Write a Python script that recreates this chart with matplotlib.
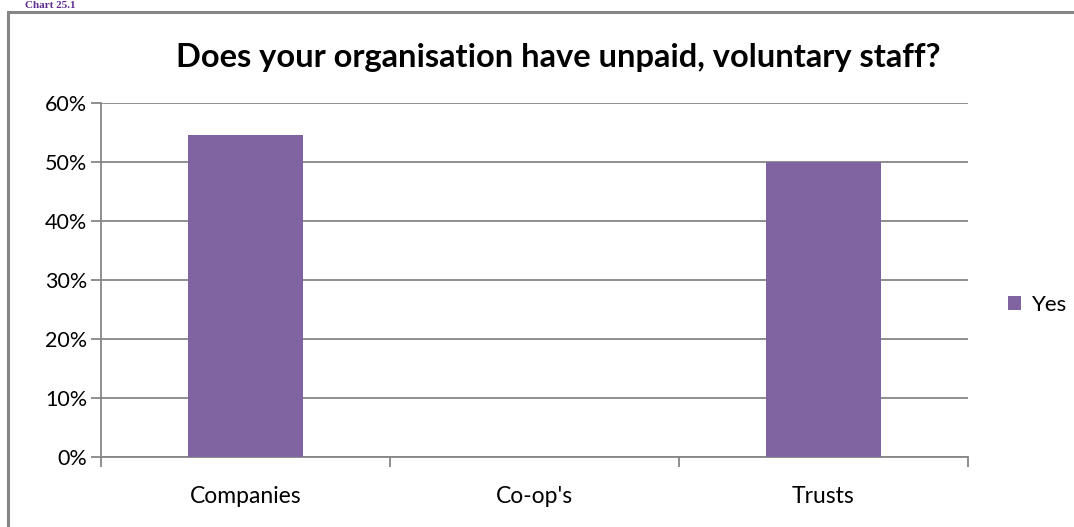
import matplotlib
matplotlib.use("Agg")
import matplotlib.pyplot as plt
from matplotlib.patches import Rectangle
from matplotlib.ticker import MultipleLocator, PercentFormatter

categories = ["Companies", "Co-op's", "Trusts"]
yes_share = [0.545, 0.0, 0.50]
series_name = "Yes"
chart_title = "Does your organisation have unpaid, voluntary staff?"
caption = "Chart 25.1"

W, H = 1074, 527
fig = plt.figure(figsize=(W / 100, H / 100), dpi=100)
font = ["Lato", "DejaVu Sans"]

# Frame around the chart area
fig.patches.append(Rectangle((8 / W, -0.02), 1.2, (H - 12) / H + 0.02,
                             transform=fig.transFigure, fill=False,
                             edgecolor="#868686", linewidth=2.2))

fig.text(25 / W, 1 - 0.5 / H, caption, family="Liberation Serif", weight="bold",
         fontsize=8, color="#5f2d91", va="top", ha="left")

ax = fig.add_axes([101 / W, 1 - 457 / H, (968 - 101) / W, (457 - 103) / H])
x = range(len(categories))
ax.bar(x, yes_share, width=0.4, color="#8064a2", label=series_name, zorder=3)
ax.set_xlim(-0.5, len(categories) - 0.5)
ax.set_ylim(0, 0.6)
ax.yaxis.set_major_locator(MultipleLocator(0.1))
ax.yaxis.set_major_formatter(PercentFormatter(1.0, decimals=0))
ax.grid(axis="y", color="#868686", linewidth=1.3, zorder=0)

ax.set_xticks([i + 0.5 for i in range(-1, len(categories))])
ax.set_xticklabels([])
ax.set_xticks(list(x), minor=True)
ax.set_xticklabels(categories, minor=True, family=font, fontsize=16.5)
ax.tick_params(axis="x", which="major", length=7, width=1.3, color="#868686")
ax.tick_params(axis="x", which="minor", length=0, pad=21)
ax.tick_params(axis="y", length=7, width=1.3, color="#868686", labelsize=15.5, pad=3)
for lbl in ax.get_yticklabels():
    lbl.set_family(font)

for side in ("top", "right"):
    ax.spines[side].set_visible(False)
for side in ("left", "bottom"):
    ax.spines[side].set_color("#868686")
    ax.spines[side].set_linewidth(1.3)

fig.text(558 / W, 1 - 57 / H, chart_title, family=font, weight="bold",
         fontsize=23.5, ha="center", va="center", color="black")

ax.legend(loc="center left", bbox_to_anchor=(988 / W, 1 - 305 / H),
          bbox_transform=fig.transFigure, frameon=False, handlelength=0.6,
          handleheight=0.6, handletextpad=0.5, prop={"family": font, "size": 16})

fig.savefig("out.png", dpi=100)
